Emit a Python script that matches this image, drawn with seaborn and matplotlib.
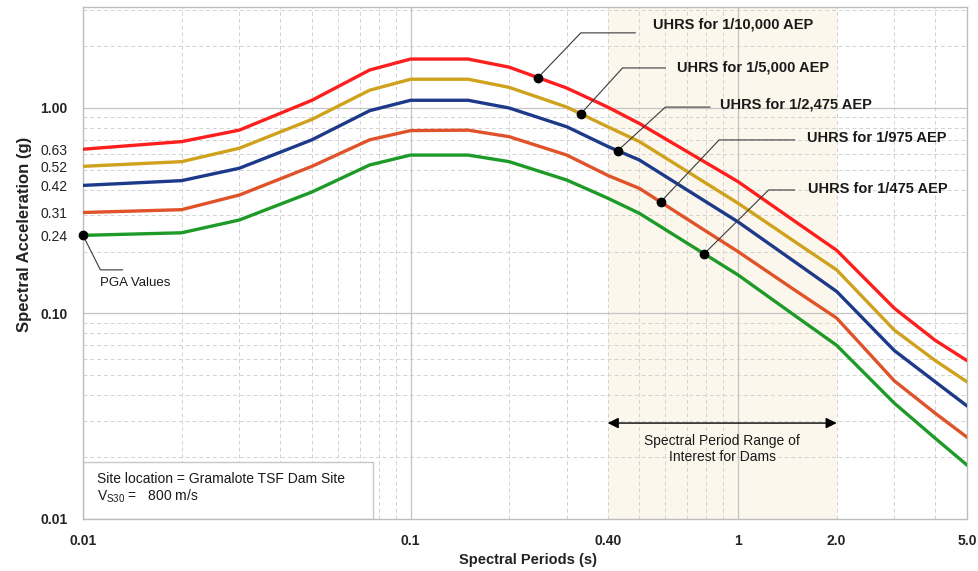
import numpy as np
import pandas as pd
import matplotlib
matplotlib.use('Agg')
import matplotlib.pyplot as plt
from matplotlib.patches import Rectangle
from matplotlib.ticker import NullLocator
import seaborn as sns

# ---------------- data ----------------
periods = [0.01, 0.02, 0.03, 0.05, 0.075, 0.1, 0.15, 0.2, 0.3, 0.4, 0.5,
           0.75, 1.0, 1.5, 2.0, 3.0, 4.0, 5.0]
sa_10000 = [0.63, 0.686, 0.78, 1.09, 1.53, 1.73, 1.73, 1.58, 1.25, 1.01, 0.84,
            0.574, 0.438, 0.279, 0.203, 0.106, 0.074, 0.059]
sa_5000 = [0.52, 0.548, 0.637, 0.88, 1.22, 1.38, 1.38, 1.26, 1.01, 0.81, 0.686,
           0.458, 0.344, 0.222, 0.163, 0.083, 0.059, 0.0465]
sa_2475 = [0.42, 0.443, 0.509, 0.70, 0.97, 1.09, 1.09, 1.0, 0.81, 0.65, 0.558,
           0.372, 0.279, 0.177, 0.128, 0.066, 0.0465, 0.0355]
sa_975 = [0.31, 0.32, 0.377, 0.52, 0.70, 0.776, 0.78, 0.725, 0.59, 0.47, 0.406,
          0.268, 0.20, 0.129, 0.095, 0.047, 0.0327, 0.025]
sa_475 = [0.24, 0.247, 0.285, 0.39, 0.528, 0.59, 0.59, 0.548, 0.446, 0.364, 0.307,
          0.205, 0.154, 0.097, 0.070, 0.0366, 0.0247, 0.0183]

curve_names = ['UHRS for 1/10,000 AEP', 'UHRS for 1/5,000 AEP', 'UHRS for 1/2,475 AEP',
               'UHRS for 1/975 AEP', 'UHRS for 1/475 AEP']
curve_values = [sa_10000, sa_5000, sa_2475, sa_975, sa_475]
curve_colors = ['#FF1E1E', '#CFA21E', '#1D3A8A', '#E0532A', '#1E9A28']

# period at which each curve is labelled
label_periods = [0.245, 0.331, 0.429, 0.58, 0.788]

x_ticks = [0.01, 0.1, 0.4, 1.0, 2.0, 5.0]
x_ticklabels = ['0.01', '0.1', '0.40', '1', '2.0', '5.0']
y_major = [0.01, 0.1, 1.0]
y_major_labels = ['0.01', '0.10', '1.00']
pga_values = [v[0] for v in curve_values]

range_lo, range_hi = 0.4, 2.0

df = pd.DataFrame({
    'period': np.tile(periods, len(curve_names)),
    'sa': np.concatenate(curve_values),
    'curve': np.repeat(curve_names, len(periods)),
})

# ---------------- style ----------------
sns.set_style('white')
plt.rcParams['font.family'] = ['Liberation Sans', 'DejaVu Sans']

W, H = 979, 571
fig = plt.figure(figsize=(W / 100, H / 100), dpi=100)
L, R, T, B = 83, 967, 7, 519
ax = fig.add_axes([L / W, 1 - B / H, (R - L) / W, (B - T) / H])
ax.set_xscale('log')
ax.set_yscale('log')
ax.set_xlim(0.01, 5.0)
ax.set_ylim(0.01, 3.1)

# shaded range of interest
ax.axvspan(range_lo, range_hi, color='#FBF7EC', zorder=0, lw=0)

# grid
grid_c = '#D2D2D2'
for d in [0.01, 0.1, 1.0]:
    for m in range(2, 10):
        v = d * m
        if v < 5.0:
            ax.axvline(v, color=grid_c, lw=0.7, ls=(0, (4, 3)), zorder=1)
        if v < 3.1:
            ax.axhline(v, color=grid_c, lw=0.7, ls=(0, (4, 3)), zorder=1)
for v in [0.1, 1.0]:
    ax.axvline(v, color='#C4C4C4', lw=0.9, zorder=1)
    ax.axhline(v, color='#C4C4C4', lw=0.9, zorder=1)

# curves
sns.lineplot(data=df, x='period', y='sa', hue='curve', hue_order=curve_names,
             palette=dict(zip(curve_names, curve_colors)), lw=2.4,
             legend=False, ax=ax, zorder=4, estimator=None)

# ticks
ax.xaxis.set_minor_locator(NullLocator())
ax.yaxis.set_minor_locator(NullLocator())
ax.set_xticks(x_ticks)
ax.set_xticklabels(x_ticklabels, fontweight='bold', fontsize=10)
yt = y_major + sorted(pga_values)
ytl = y_major_labels + [f'{v:.2f}' for v in sorted(pga_values)]
ax.set_yticks(yt)
ax.set_yticklabels(ytl, fontsize=10)
for lab in ax.get_yticklabels():
    if lab.get_text() in y_major_labels:
        lab.set_fontweight('bold')
ax.tick_params(axis='x', length=0, pad=11, colors='#222222')
ax.tick_params(axis='y', length=0, pad=11, colors='#222222')

for s in ax.spines.values():
    s.set_color('#BDBDBD')
    s.set_linewidth(1.0)

ax.set_xlabel('Spectral Periods (s)', fontweight='bold', fontsize=10.5, color='#222222')
ax.set_ylabel('Spectral Acceleration (g)', fontweight='bold', fontsize=12, color='#222222')
ax.xaxis.set_label_coords(0.503, -0.066)
ax.yaxis.set_label_coords(-0.058, 0.555)


def on_curve(p, vals):
    return 10 ** np.interp(np.log10(p), np.log10(periods), np.log10(vals))


lead_c = '#3A3A3A'
# leader layouts: knee point, line end, text anchor (data coords)
knees = [(0.331, 2.32), (0.444, 1.566), (0.600, 1.01), (0.875, 0.699), (1.24, 0.399)]
ends = [0.486, 0.600, 0.822, 1.49, 1.49]
texts = [(0.548, 2.54), (0.652, 1.58), (0.882, 1.034), (1.62, 0.714), (1.64, 0.404)]
for name, vals, p, (kx, ky), ex, (tx, ty) in zip(curve_names, curve_values, label_periods,
                                                 knees, ends, texts):
    y0 = on_curve(p, vals)
    ax.plot([p, kx, ex], [y0, ky, ky], color=lead_c, lw=0.8, zorder=5)
    ax.plot([p], [y0], 'o', color='black', ms=6, zorder=6)
    ax.text(tx, ty, name, fontweight='bold', fontsize=10.5, va='center', ha='left',
            color='#1A1A1A', zorder=6)

# PGA annotation
pga_min = min(pga_values)
ax.plot([0.01, 0.0113, 0.01323], [pga_min, 0.163, 0.163], color=lead_c, lw=0.8,
        zorder=5, clip_on=False)
ax.plot([0.01], [pga_min], 'o', color='black', ms=6, zorder=7, clip_on=False)
ax.text(0.0113, 0.141, 'PGA Values', fontsize=9.5, va='center', ha='left', color='#1A1A1A')

# range arrow
ya = 0.0293
ax.annotate('', xy=(range_lo, ya), xytext=(range_hi, ya),
            arrowprops=dict(arrowstyle='<|-|>', color='black', lw=1.0,
                            mutation_scale=16, shrinkA=0, shrinkB=0), zorder=5)
ax.text(0.894, 0.0258, 'Spectral Period Range of\nInterest for Dams', fontsize=10,
        ha='center', va='top', color='#1A1A1A', linespacing=1.15)

# site info box
ax.add_patch(Rectangle((0, 0), (373 - L) / (R - L), (519 - 462) / (B - T),
                       transform=ax.transAxes, facecolor='white', edgecolor='#C8C8C8',
                       lw=1.0, zorder=2))
ax.text(0.016, 0.078, 'Site location = Gramalote TSF Dam Site', transform=ax.transAxes,
        fontsize=10, va='center', ha='left', color='#1A1A1A', zorder=3)
ax.text(0.016, 0.045, r'$\mathregular{V_{S30}}$ =   800 m/s', transform=ax.transAxes,
        fontsize=10, va='center', ha='left', color='#1A1A1A', zorder=3)

fig.savefig('out.png', dpi=100)
